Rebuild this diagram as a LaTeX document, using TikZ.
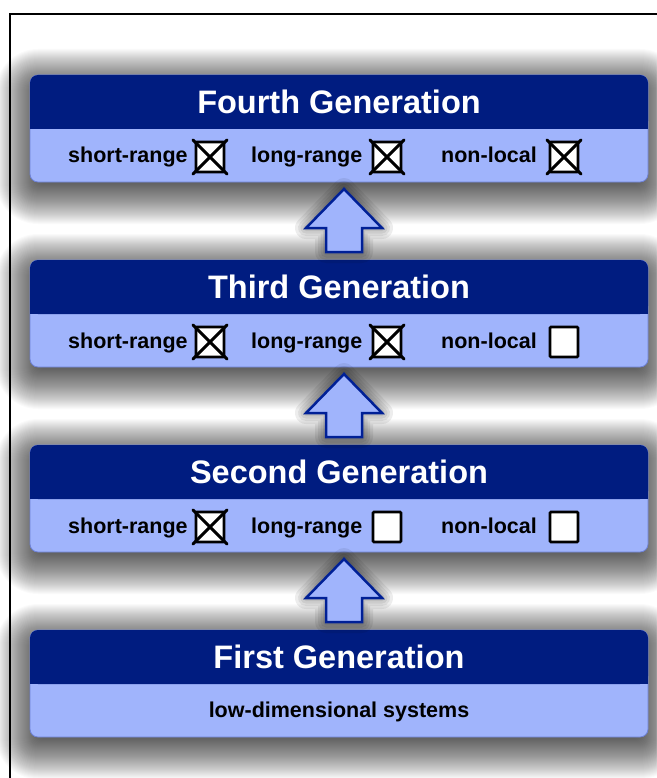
\documentclass[tikz,border=0pt]{standalone}
\usepackage{fontspec}
\setmainfont{Liberation Sans}
\usetikzlibrary{calc}
\definecolor{hdrblue}{RGB}{0,28,128}
\definecolor{bodyblue}{RGB}{160,180,252}
\definecolor{bodyedge}{RGB}{110,130,215}
\definecolor{arrowedge}{RGB}{0,32,150}
\tikzset{
  genbox/.style={rectangle, rounded corners=8pt, minimum width=618pt, minimum height=107pt,
    fill=bodyblue, draw=bodyedge, line width=0.8pt, inner sep=0pt, outer sep=0pt},
  hdrtext/.style={text=white, font=\fontsize{32.5}{32.5}\selectfont\bfseries, inner sep=0pt},
  lbl/.style={font=\fontsize{21.5}{21.5}\selectfont\bfseries, inner sep=0pt, anchor=base west},
  cbox/.style={draw=black, fill=white, line width=2.8pt, minimum width=28pt, minimum height=30pt,
    inner sep=0pt, outer sep=0pt, rounded corners=1pt},
  xline/.style={line width=3pt, line cap=round},
  shadowlayer/.style={fill=black, opacity=0.0195},
  arrowhalo/.style={fill=black, draw=black, opacity=0.07, line join=round},
  uparrow/.style={fill=bodyblue, draw=arrowedge, line width=2.5pt, line join=miter}
}
\newcommand\SoftShadow[1]{%
  \foreach \e in {-12,...,34}{%
    \pgfmathsetmacro\rr{max(8,8+\e)}%
    \fill[shadowlayer, rounded corners=\rr pt] ($(#1)+(-309-\e,-45.5-\e)$) rectangle ($(#1)+(309+\e,61.5+\e)$);
  }}
\newcommand\HdrFill[1]{%
  \fill[hdrblue, rounded corners=8pt] (#1.north west) rectangle ($(#1.north east)+(0,54)$);
  \fill[hdrblue] ($(#1.north west)+(0,44)$) rectangle ($(#1.north east)+(0,54)$);}
\newcommand\CheckX[1]{%
  \draw[xline] ($(#1.north west)+(-3,-2)$) -- ($(#1.south east)+(3,2)$);
  \draw[xline] ($(#1.north east)+(3,-2)$) -- ($(#1.south west)+(-3,2)$);}
\newcommand\ArrowPath[1]{(#1tip) -- ++(38,39) -- ++(-20,0) -- ($(#1base)+(18,0)$)
    -- ($(#1base)+(-18,0)$) -- ($(#1tip)+(-18,39)$) -- ++(-20,0) -- cycle}
\newcommand\GenArrow[3]{%
  \coordinate (#1tip) at ($(#2.south)+(5,7)$);
  \coordinate (#1base) at ($(#3.north)+(5,-8)$);
  \begin{scope}[yshift=-4pt]
    \foreach \w in {22,16,11,6}{\filldraw[arrowhalo, line width=\w pt] \ArrowPath{#1};}
  \end{scope}
  \draw[uparrow] \ArrowPath{#1};}
\begin{document}
\begin{tikzpicture}[x=1pt, y=-1pt]
\useasboundingbox (0,0) rectangle (656,778);
\fill[white] (0,0) rectangle (656,778);
\draw[line width=2pt] (10,14) rectangle (700,820);

% box centres (top y: 75, 260, 445, 630)
\coordinate (c4) at (339,128.5);
\coordinate (c3) at (339,313.5);
\coordinate (c2) at (339,498.5);
\coordinate (c1) at (339,683.5);
\SoftShadow{c4}
\SoftShadow{c3}
\SoftShadow{c2}
\SoftShadow{c1}

\node[genbox] (g4) at (c4) {};
\node[genbox] (g3) at (c3) {};
\node[genbox] (g2) at (c2) {};
\node[genbox] (g1) at (c1) {};

\HdrFill{g4}
\HdrFill{g3}
\HdrFill{g2}
\HdrFill{g1}

\node[hdrtext] (g4t) at (339,102) {Fourth Generation};
\node[hdrtext] (g3t) at (339,287) {Third Generation};
\node[hdrtext] (g2t) at (339,472) {Second Generation};
\node[hdrtext] (g1t) at (339,657) {First Generation};

% fourth generation body
\node[lbl] (g4s) at (68,163) {short-range};
\node[lbl] (g4l) at (251,163) {long-range};
\node[lbl] (g4n) at (441,163) {non-local};
\node[cbox] (g4sb) at (210,157) {};
\node[cbox] (g4lb) at (387,157) {};
\node[cbox] (g4nb) at (564,157) {};
\CheckX{g4sb}
\CheckX{g4lb}
\CheckX{g4nb}

% third generation body
\node[lbl] (g3s) at (68,348) {short-range};
\node[lbl] (g3l) at (251,348) {long-range};
\node[lbl] (g3n) at (441,348) {non-local};
\node[cbox] (g3sb) at (210,342) {};
\node[cbox] (g3lb) at (387,342) {};
\node[cbox] (g3nb) at (564,342) {};
\CheckX{g3sb}
\CheckX{g3lb}

% second generation body
\node[lbl] (g2s) at (68,533) {short-range};
\node[lbl] (g2l) at (251,533) {long-range};
\node[lbl] (g2n) at (441,533) {non-local};
\node[cbox] (g2sb) at (210,527) {};
\node[cbox] (g2lb) at (387,527) {};
\node[cbox] (g2nb) at (564,527) {};
\CheckX{g2sb}

% first generation body
\node[font=\fontsize{21.5}{21.5}\selectfont\bfseries, inner sep=0pt, anchor=base] (g1d) at (339,717) {low-dimensional systems};

% arrows
\GenArrow{a43}{g4}{g3}
\GenArrow{a32}{g3}{g2}
\GenArrow{a21}{g2}{g1}
\end{tikzpicture}
\end{document}
